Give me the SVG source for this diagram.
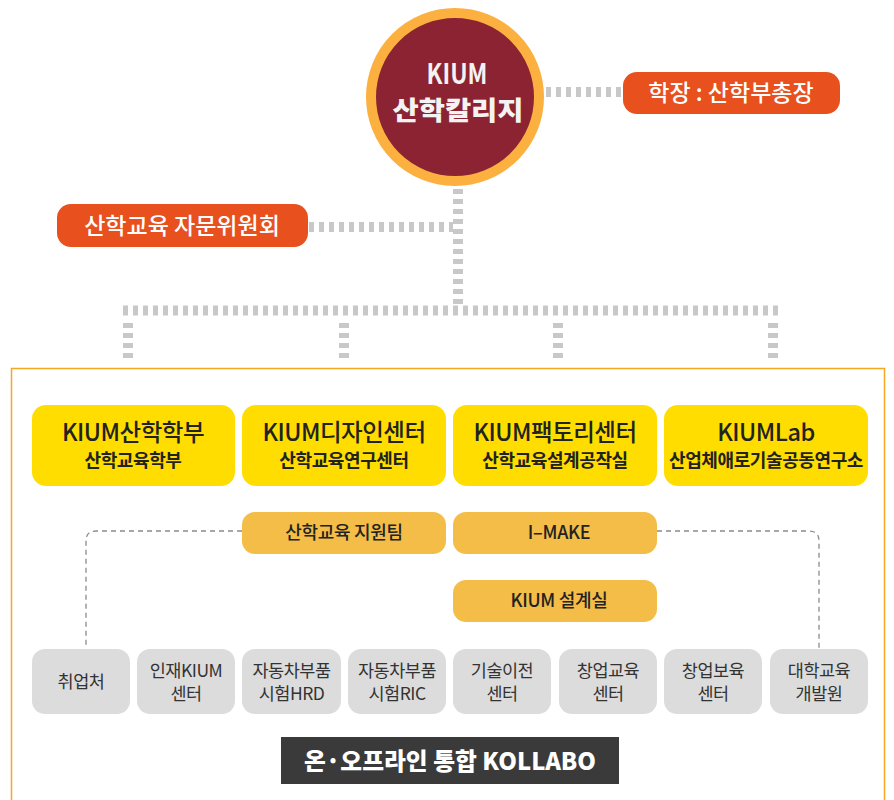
<svg xmlns="http://www.w3.org/2000/svg" width="894" height="800" viewBox="0 0 894 800">
<style>
  text { font-family: "Noto Sans CJK KR", "Noto Sans", sans-serif; text-anchor: middle; }
  .dot { stroke: #c8c8c8; stroke-width: 10; fill: none; stroke-dasharray: 5 5; }
  .dash { stroke: #8a8a8a; stroke-width: 1.3; fill: none; stroke-dasharray: 5 4; }
  .pill { fill: #e8501e; }
  .pilltxt { fill: #ffffff; font-size: 23px; font-weight: 500; }
  .ybox { fill: #ffdd00; }
  .ytitle { fill: #222222; font-size: 23.5px; font-weight: 500; letter-spacing: -0.5px; }
  .ysub { fill: #222222; font-size: 18px; font-weight: 700; letter-spacing: -0.4px; }
  .obox { fill: #f3bd48; }
  .otxt { fill: #222222; font-size: 18px; font-weight: 500; letter-spacing: -0.3px; }
  .gbox { fill: #dcdcdc; }
  .gtxt { fill: #333333; font-size: 17.5px; font-weight: 400; letter-spacing: -0.5px; }
</style>

<g id="frame">
  <rect x="11.5" y="368.5" width="873" height="450" fill="none" stroke="#f5a623" stroke-width="1.5"/>
</g>

<g id="connectors">
  <line class="dot" x1="546" y1="92" x2="622" y2="92"/>
  <line class="dot" x1="309" y1="227" x2="453" y2="227"/>
  <line class="dot" x1="458" y1="189" x2="458" y2="305"/>
  <line class="dot" x1="123" y1="310.5" x2="781" y2="310.5"/>
  <line class="dot" x1="128" y1="323" x2="128" y2="362"/>
  <line class="dot" x1="344" y1="323" x2="344" y2="362"/>
  <line class="dot" x1="558" y1="323" x2="558" y2="362"/>
  <line class="dot" x1="773" y1="323" x2="773" y2="362"/>
  <path class="dash" d="M242,531 H96 Q86,531 86,541 V648"/>
  <path class="dash" d="M657,531 H809 Q819,531 819,541 V648"/>
</g>

<g id="college">
  <circle cx="455" cy="97" r="84" fill="#8b2332" stroke="#fbb040" stroke-width="10"/>
  <text x="457" y="84" fill="#f3f3f3" font-family="'Liberation Sans', Arial, sans-serif" font-size="28" font-weight="700" textLength="61" lengthAdjust="spacingAndGlyphs">KIUM</text>
  <text x="458" y="120" fill="#f3f3f3" font-size="26" font-weight="900" textLength="131" lengthAdjust="spacingAndGlyphs">산학칼리지</text>
</g>

<g id="president">
  <rect class="pill" x="623" y="72" width="217" height="42" rx="14"/>
  <text class="pilltxt" x="731" y="101">학장 : 산학부총장</text>
</g>

<g id="advisory">
  <rect class="pill" x="57" y="204" width="251" height="43" rx="14"/>
  <text class="pilltxt" x="182" y="234" font-size="24">산학교육 자문위원회</text>
</g>

<g id="y1">
  <rect class="ybox" x="32" y="405" width="203" height="81" rx="14"/>
  <text class="ytitle" x="133" y="441">KIUM산학학부</text>
  <text class="ysub" x="133" y="467">산학교육학부</text>
</g>
<g id="y2">
  <rect class="ybox" x="242" y="405" width="204" height="81" rx="14"/>
  <text class="ytitle" x="344" y="441">KIUM디자인센터</text>
  <text class="ysub" x="344" y="467">산학교육연구센터</text>
</g>
<g id="y3">
  <rect class="ybox" x="453" y="405" width="204" height="81" rx="14"/>
  <text class="ytitle" x="555" y="441">KIUM팩토리센터</text>
  <text class="ysub" x="555" y="467">산학교육설계공작실</text>
</g>
<g id="y4">
  <rect class="ybox" x="664" y="405" width="204" height="81" rx="14"/>
  <text class="ytitle" x="766" y="441">KIUMLab</text>
  <text class="ysub" x="766" y="467">산업체애로기술공동연구소</text>
</g>

<g id="o1">
  <rect class="obox" x="242" y="512" width="204" height="42" rx="13"/>
  <text class="otxt" x="344" y="539">산학교육 지원팀</text>
</g>
<g id="o2">
  <rect class="obox" x="453" y="512" width="204" height="42" rx="13"/>
  <text class="otxt" x="559" y="539" font-size="20">I–MAKE</text>
</g>
<g id="o3">
  <rect class="obox" x="453" y="580" width="204" height="42" rx="13"/>
  <text class="otxt" x="559" y="607">KIUM 설계실</text>
</g>

<g id="g1">
  <rect class="gbox" x="32" y="649" width="98" height="65" rx="13"/>
  <text class="gtxt" x="81" y="688">취업처</text>
</g>
<g id="g2">
  <rect class="gbox" x="137" y="649" width="98" height="65" rx="13"/>
  <text class="gtxt" x="186" y="677">인재KIUM</text>
  <text class="gtxt" x="186" y="700">센터</text>
</g>
<g id="g3">
  <rect class="gbox" x="242" y="649" width="99" height="65" rx="13"/>
  <text class="gtxt" x="291.5" y="677">자동차부품</text>
  <text class="gtxt" x="291.5" y="700">시험HRD</text>
</g>
<g id="g4">
  <rect class="gbox" x="348" y="649" width="98" height="65" rx="13"/>
  <text class="gtxt" x="397" y="677">자동차부품</text>
  <text class="gtxt" x="397" y="700">시험RIC</text>
</g>
<g id="g5">
  <rect class="gbox" x="453" y="649" width="98" height="65" rx="13"/>
  <text class="gtxt" x="502" y="677">기술이전</text>
  <text class="gtxt" x="502" y="700">센터</text>
</g>
<g id="g6">
  <rect class="gbox" x="559" y="649" width="98" height="65" rx="13"/>
  <text class="gtxt" x="608" y="677">창업교육</text>
  <text class="gtxt" x="608" y="700">센터</text>
</g>
<g id="g7">
  <rect class="gbox" x="664" y="649" width="98" height="65" rx="13"/>
  <text class="gtxt" x="713" y="677">창업보육</text>
  <text class="gtxt" x="713" y="700">센터</text>
</g>
<g id="g8">
  <rect class="gbox" x="770" y="649" width="98" height="65" rx="13"/>
  <text class="gtxt" x="819" y="677">대학교육</text>
  <text class="gtxt" x="819" y="700">개발원</text>
</g>

<g id="banner">
  <rect x="281" y="737" width="338" height="47" fill="#3a3a3a"/>
  <text x="450" y="770" fill="#ffffff" font-size="24" font-weight="900" textLength="292" lengthAdjust="spacingAndGlyphs">온·오프라인 통합 KOLLABO</text>
</g>
</svg>
